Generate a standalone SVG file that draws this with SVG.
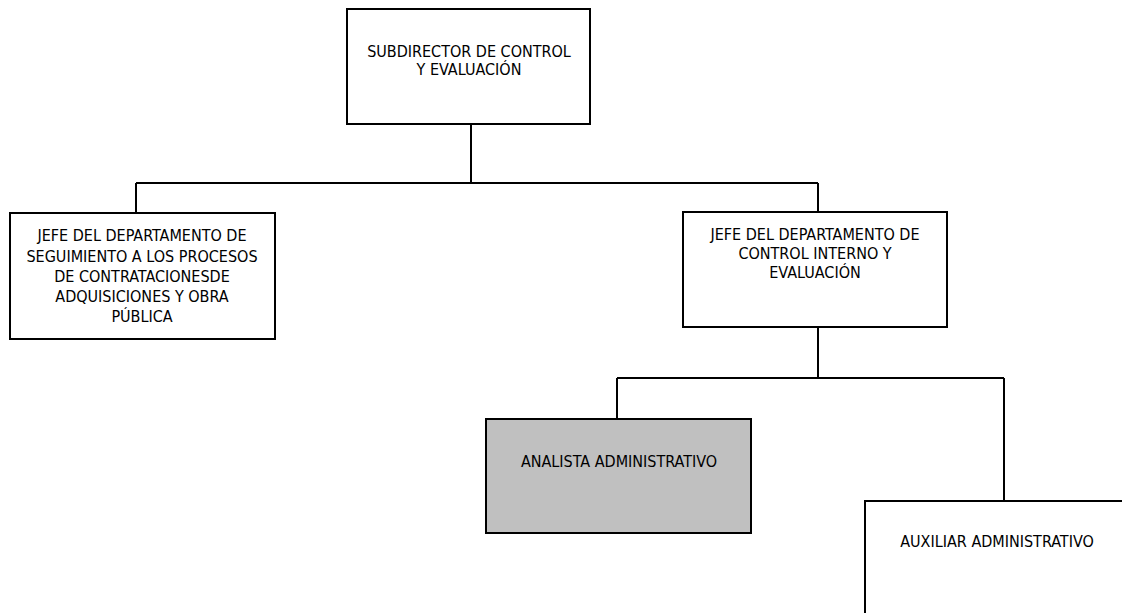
<svg xmlns="http://www.w3.org/2000/svg" width="1122" height="613" viewBox="0 0 1122 613">
  <style>
    .box { fill: #ffffff; stroke: #000000; stroke-width: 2; }
    .grey { fill: #c0c0c0; }
    .wire { fill: none; stroke: #000000; stroke-width: 2; }
    text { font-family: 'DejaVu Sans Condensed', 'DejaVu Sans', sans-serif; font-stretch: condensed; font-size: 16px; fill: #000000; text-anchor: middle; }
  </style>
  <rect width="1122" height="613" fill="#ffffff"/>

  <!-- connectors -->
  <g id="connectors">
    <path class="wire" d="M471,124 V183 M136,183 H818 M136,183 V213 M818,183 V212"/>
    <path class="wire" d="M818,327 V378 M617,378 H1004 M617,378 V419 M1004,378 V501"/>
  </g>

  <g id="subdirector">
    <rect class="box" x="347" y="9" width="243" height="115"/>
    <text x="469" y="57">SUBDIRECTOR DE CONTROL</text>
    <text x="469" y="75">Y EVALUACIÓN</text>
  </g>

  <g id="jefe-seguimiento">
    <rect class="box" x="10" y="213" width="265" height="126"/>
    <text x="142" y="241">JEFE DEL DEPARTAMENTO DE</text>
    <text x="142" y="261.5">SEGUIMIENTO A LOS PROCESOS</text>
    <text x="142" y="281.5">DE CONTRATACIONESDE</text>
    <text x="142" y="301.5">ADQUISICIONES Y OBRA</text>
    <text x="142" y="322">PÚBLICA</text>
  </g>

  <g id="jefe-control">
    <rect class="box" x="683" y="212" width="264" height="115"/>
    <text x="815" y="240">JEFE DEL DEPARTAMENTO DE</text>
    <text x="815" y="259">CONTROL INTERNO Y</text>
    <text x="815" y="278">EVALUACIÓN</text>
  </g>

  <g id="analista">
    <rect class="box grey" x="486" y="419" width="265" height="114"/>
    <text x="619" y="467">ANALISTA ADMINISTRATIVO</text>
  </g>

  <g id="auxiliar">
    <rect class="box" x="865" y="501" width="265" height="120"/>
    <text x="997" y="547">AUXILIAR ADMINISTRATIVO</text>
  </g>
</svg>
